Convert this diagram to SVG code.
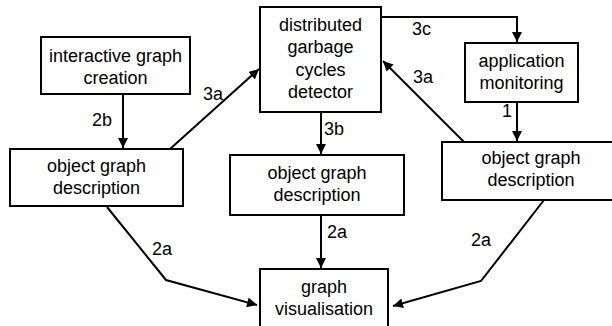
<svg xmlns="http://www.w3.org/2000/svg" width="612" height="326" viewBox="0 0 612 326">
  <style>
    .box { fill: #fff; stroke: #000; stroke-width: 2; }
    .txt { font-family: "Liberation Sans", Arial, sans-serif; font-size: 18px; fill: #000; text-anchor: middle; }
    .lbl { font-family: "Liberation Sans", Arial, sans-serif; font-size: 18px; fill: #000; }
    .edge { fill: none; stroke: #000; stroke-width: 2; marker-end: url(#arrow); }
  </style>
  <defs>
    <marker id="arrow" viewBox="0 0 10 10" refX="10" refY="5" markerWidth="5" markerHeight="5" orient="auto" markerUnits="strokeWidth">
      <path d="M0,0 L10,5 L0,10 z" fill="#000"/>
    </marker>
  </defs>
  <rect width="612" height="326" fill="#fff"/>

  <g id="connectors">
    <path class="edge" d="M123,94 L123,148"/>
    <path class="edge" d="M170,149 L259,69"/>
    <path class="edge" d="M381,17 L517,17 L517,42"/>
    <path class="edge" d="M464,142 L383,61"/>
    <path class="edge" d="M517,102 L517,141"/>
    <path class="edge" d="M321,112 L321,154"/>
    <path class="edge" d="M107,207 L166,280 L257,305"/>
    <path class="edge" d="M321,215 L321,268"/>
    <path class="edge" d="M544,200 L481,281 L393,306"/>
    <text class="lbl" x="92" y="126">2b</text>
    <text class="lbl" x="203" y="100">3a</text>
    <text class="lbl" x="412" y="35">3c</text>
    <text class="lbl" x="413" y="83">3a</text>
    <text class="lbl" x="502" y="117">1</text>
    <text class="lbl" x="324" y="135">3b</text>
    <text class="lbl" x="152" y="255">2a</text>
    <text class="lbl" x="327" y="238">2a</text>
    <text class="lbl" x="471" y="246">2a</text>
  </g>

  <g id="interactive-creation">
    <rect class="box" x="41" y="37" width="149" height="57"/>
    <text class="txt" x="115.5" y="62">interactive graph</text>
    <text class="txt" x="115.5" y="84">creation</text>
  </g>

  <g id="cycles-detector">
    <rect class="box" x="260" y="7" width="121" height="105"/>
    <text class="txt" x="320.5" y="31">distributed</text>
    <text class="txt" x="320.5" y="53">garbage</text>
    <text class="txt" x="320.5" y="76">cycles</text>
    <text class="txt" x="320.5" y="98">detector</text>
  </g>

  <g id="app-monitoring">
    <rect class="box" x="465" y="43" width="113" height="59"/>
    <text class="txt" x="521.5" y="67">application</text>
    <text class="txt" x="521.5" y="89">monitoring</text>
  </g>

  <g id="object-graph-left">
    <rect class="box" x="10" y="149" width="173" height="57"/>
    <text class="txt" x="96.5" y="172">object graph</text>
    <text class="txt" x="96.5" y="194">description</text>
  </g>

  <g id="object-graph-middle">
    <rect class="box" x="230" y="155" width="174" height="60"/>
    <text class="txt" x="317" y="179">object graph</text>
    <text class="txt" x="317" y="201">description</text>
  </g>

  <g id="object-graph-right">
    <rect class="box" x="442" y="142" width="180" height="58"/>
    <text class="txt" x="531" y="164">object graph</text>
    <text class="txt" x="531" y="186">description</text>
  </g>

  <g id="graph-visualisation">
    <rect class="box" x="260" y="269" width="128" height="70"/>
    <text class="txt" x="324" y="293">graph</text>
    <text class="txt" x="324" y="315">visualisation</text>
  </g>
</svg>
